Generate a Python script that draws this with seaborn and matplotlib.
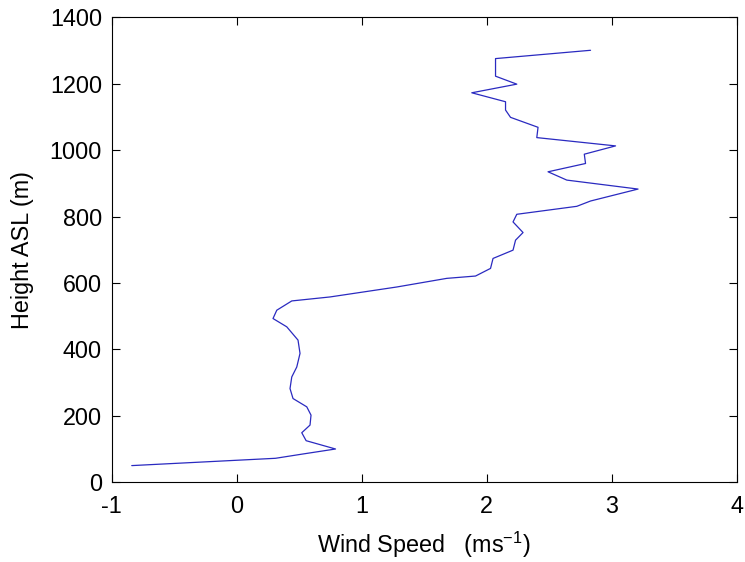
import numpy as np
import pandas as pd
import matplotlib
matplotlib.use("Agg")
import matplotlib.pyplot as plt
import seaborn as sns

# wind speed (m/s) and height above sea level (m)
wind_speed = [-0.84, 0.31, 0.53, 0.79, 0.555, 0.52, 0.586, 0.594, 0.56, 0.45,
              0.426, 0.44, 0.48, 0.506, 0.49, 0.40, 0.29, 0.32, 0.44, 0.746,
              1.28, 1.68, 1.91, 2.03, 2.05, 2.21, 2.23, 2.29, 2.21, 2.24,
              2.72, 2.83, 3.21, 2.64, 2.49, 2.79, 2.78, 3.03, 2.40, 2.41,
              2.19, 2.15, 2.15, 1.88, 2.24, 2.07, 2.07, 2.07, 2.83]
height = [50, 72, 85, 100, 125, 149, 172, 202, 227, 252,
          282, 317, 347, 388, 428, 468, 493, 518, 546, 558,
          588, 614, 621, 644, 674, 699, 729, 752, 784, 807,
          831, 847, 883, 910, 935, 960, 988, 1013, 1038, 1069,
          1099, 1121, 1146, 1173, 1199, 1223, 1256, 1276, 1301]

x_ticks = [-1, 0, 1, 2, 3, 4]
y_ticks = [0, 200, 400, 600, 800, 1000, 1200, 1400]

sns.set_style("white")
plt.rcParams['font.family'] = ['Liberation Sans', 'DejaVu Sans']
plt.rcParams['mathtext.fontset'] = 'custom'
plt.rcParams['mathtext.rm'] = 'Liberation Sans'
plt.rcParams['mathtext.it'] = 'Liberation Sans'
plt.rcParams['axes.unicode_minus'] = False

df = pd.DataFrame({'speed': wind_speed, 'height': height})

fig = plt.figure(figsize=(7.45, 5.62), dpi=100)
ax = fig.add_axes([0.150, 0.142, 0.839, 0.827])
sns.lineplot(data=df, x='speed', y='height', sort=False, estimator=None,
             color='#2a2ac0', linewidth=0.9, ax=ax)

ax.set_xlim(-1, 4)
ax.set_ylim(0, 1400)
ax.set_xticks(x_ticks)
ax.set_yticks(y_ticks)
ax.tick_params(direction='in', length=6, width=0.8, labelsize=16.8,
               top=True, right=True, bottom=True, left=True,
               colors='black', labelcolor='black')
ax.tick_params(axis='x', pad=9)
ax.tick_params(axis='y', pad=7)
for s in ax.spines.values():
    s.set_visible(True)
    s.set_color('black')
    s.set_linewidth(0.8)
ax.set_xlabel('Wind Speed   (ms$^{-1}$)', fontsize=16.8, color='black', labelpad=9)
ax.set_ylabel('Height ASL (m)', fontsize=16.8, color='black', labelpad=11)
ax.grid(False)

fig.savefig('out.png', dpi=100)
